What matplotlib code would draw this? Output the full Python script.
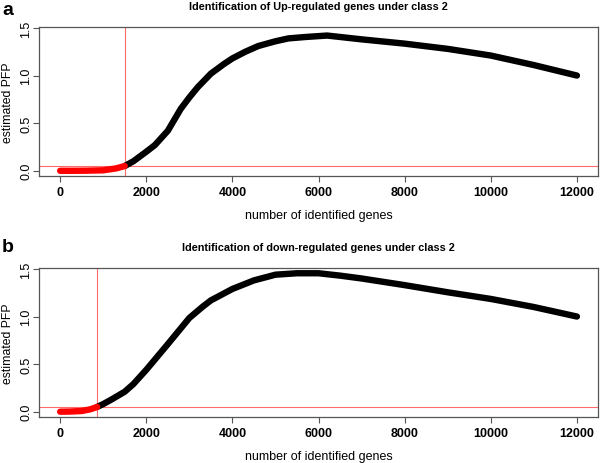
import matplotlib

matplotlib.use("Agg")
import matplotlib.pyplot as plt
import numpy as np

plt.rcParams["font.family"] = ["Liberation Sans", "DejaVu Sans"]

# panel a: up-regulated genes
up_genes = [0, 300, 600, 1000, 1300, 1500, 1700, 2000, 2200, 2500, 2800, 3000,
            3200, 3500, 3800, 4000, 4300, 4600, 5000, 5300, 5700, 6200, 7000,
            8000, 9000, 10000, 11000, 12000]
up_pfp = [0.0, 0.0, 0.001, 0.005, 0.025, 0.05, 0.1, 0.2, 0.27, 0.42, 0.65, 0.77,
          0.88, 1.02, 1.12, 1.18, 1.25, 1.31, 1.36, 1.39, 1.405, 1.42, 1.38,
          1.335, 1.28, 1.21, 1.11, 1.0]
up_cut = 1500

# panel b: down-regulated genes
down_genes = [0, 200, 500, 700, 860, 1000, 1200, 1500, 1700, 2000, 2500, 3000,
              3300, 3500, 4000, 4500, 5000, 5500, 6000, 6500, 7000, 8000, 9000,
              10000, 11000, 12000]
down_pfp = [0.0, 0.001, 0.007, 0.025, 0.05, 0.08, 0.13, 0.21, 0.29, 0.44, 0.71,
            0.985, 1.1, 1.17, 1.29, 1.38, 1.44, 1.455, 1.455, 1.43, 1.40, 1.33,
            1.255, 1.185, 1.10, 1.0]
down_cut = 860

pfp_level = 0.05
x_ticks = [0, 2000, 4000, 6000, 8000, 10000, 12000]
y_ticks = [0.0, 0.5, 1.0, 1.5]


def draw_panel(ax, genes, pfp, cut, title):
    genes = np.asarray(genes, dtype=float)
    pfp = np.asarray(pfp, dtype=float)
    red = genes <= cut
    black = genes >= cut
    ax.plot(genes[black], pfp[black], color="black", lw=4.6, solid_capstyle="round",
            solid_joinstyle="round", zorder=3)
    ax.plot(genes[red], pfp[red], color="#ff0000", lw=4.6, solid_capstyle="round",
            solid_joinstyle="round", zorder=4)
    ax.axvline(cut, color="#ff6b6b", lw=0.8, zorder=2)
    ax.axhline(pfp_level, color="#ff6b6b", lw=0.8, zorder=2)

    ax.set_xlim(-480, 12480)
    ax.set_xticks(x_ticks)
    ax.set_xticklabels([str(v) for v in x_ticks], fontsize=9, fontweight="bold")
    ax.set_yticks(y_ticks)
    ax.set_yticklabels([f"{v:.1f}" for v in y_ticks], fontsize=9, rotation=90,
                       va="center")
    ax.tick_params(axis="x", length=4, width=0.8, color="#555555", pad=3)
    ax.tick_params(axis="y", length=4, width=0.8, color="#555555", pad=1)
    for s in ax.spines.values():
        s.set_color("#555555")
        s.set_linewidth(0.9)
    ax.set_xlabel("number of identified genes", fontsize=9, labelpad=8)
    ax.set_ylabel("estimated PFP", fontsize=8.8, labelpad=5)
    ax.set_title(title, fontsize=7.8, fontweight="bold", pad=13)


fig = plt.figure(figsize=(6.0, 4.64), dpi=100)
ax_a = fig.add_axes([0.0658, 0.6185, 0.9302, 0.3212])
ax_a.set_ylim(-0.055, 1.51)
draw_panel(ax_a, up_genes, up_pfp, up_cut,
           "Identification of Up-regulated genes under class 2")

ax_b = fig.add_axes([0.0658, 0.0985, 0.9302, 0.3211])
ax_b.set_ylim(-0.059, 1.507)
draw_panel(ax_b, down_genes, down_pfp, down_cut,
           "Identification of down-regulated genes under class 2")

fig.text(2 / 600, 1 - 15 / 464, "a", fontsize=14, fontweight="bold",
         va="baseline", ha="left")
fig.text(2 / 600, 1 - 252 / 464, "b", fontsize=14, fontweight="bold",
         va="baseline", ha="left")

fig.savefig("out.png", dpi=100)
